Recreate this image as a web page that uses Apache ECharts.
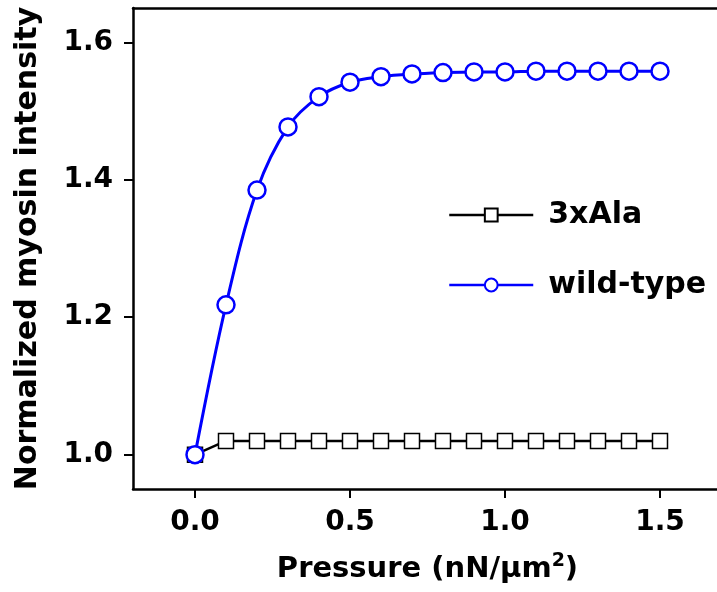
<!DOCTYPE html>
<html>
<head>
<meta charset="utf-8">
<script src="https://cdn.jsdelivr.net/npm/echarts@6/dist/echarts.min.js"></script>
<style>
  html, body { margin: 0; padding: 0; background: #fff; overflow: hidden; }
  #chart { width: 717px; height: 592px; }
</style>
</head>
<body>
<div id="chart"></div>
<script>
// pressure values (nN/um^2)
const pressure = [0, 0.1, 0.2, 0.3, 0.4, 0.5, 0.6, 0.7, 0.8, 0.9, 1.0, 1.1, 1.2, 1.3, 1.4, 1.5];
// normalized myosin intensity
const ala3 = [1.0, 1.02, 1.02, 1.02, 1.02, 1.02, 1.02, 1.02, 1.02, 1.02, 1.02, 1.02, 1.02, 1.02, 1.02, 1.02];
const wildType = [1.0, 1.218, 1.385, 1.477, 1.521, 1.542, 1.55, 1.554, 1.556, 1.557, 1.557, 1.558, 1.558, 1.558, 1.558, 1.558];
const xTicks = [0, 0.5, 1.0, 1.5];
const yTicks = [1.0, 1.2, 1.4, 1.6];

const chart = echarts.init(document.getElementById('chart'));
const font = '"DejaVu Sans", sans-serif';

chart.setOption({
    animation: false,
    // the frame runs past the right edge of the picture
    grid: { left: 133, top: 8, right: -5, bottom: 103, containLabel: false, outerBoundsMode: 'none' },
    legend: {
        orient: 'vertical',
        left: 443, top: 195,
        itemWidth: 84, itemHeight: 16,
        itemGap: 40,
        lineStyle: { width: 2.5 },
        textStyle: { fontFamily: font, fontWeight: 'bold', fontSize: 30, color: '#000', padding: [0, 0, 0, 10] },
        data: ['3xAla', 'wild-type']
    },
    xAxis: [{
        type: 'value', min: -0.2, max: 1.7,
        name: '{a|Pressure (nN/\u03bcm}{b|2}{a|)}',
        nameLocation: 'middle', nameGap: 63,
        nameTextStyle: {
            rich: {
                a: { fontFamily: font, fontWeight: 'bold', fontSize: 29, color: '#000' },
                b: { fontFamily: font, fontWeight: 'bold', fontSize: 19, color: '#000', padding: [0, 0, 16, 0] }
            }
        },
        splitLine: { show: false },
        axisLine: { onZero: false, lineStyle: { color: '#000', width: 2.5 } },
        axisTick: { customValues: xTicks, length: 9, lineStyle: { color: '#000', width: 2 } },
        axisLabel: {
            customValues: xTicks,
            formatter: v => v.toFixed(1),
            fontFamily: font, fontWeight: 'bold', fontSize: 28, color: '#000', margin: 20
        }
    }, {
        // top frame line
        type: 'value', position: 'top', min: -0.2, max: 1.7,
        splitLine: { show: false },
        axisLine: { onZero: false, lineStyle: { color: '#000', width: 2.5 } },
        axisTick: { show: false },
        axisLabel: { show: false }
    }],
    yAxis: {
        type: 'value', min: 0.95, max: 1.65,
        name: 'Normalized myosin intensity',
        nameLocation: 'middle', nameGap: 90,
        nameTextStyle: { fontFamily: font, fontWeight: 'bold', fontSize: 30, color: '#000' },
        splitLine: { show: false },
        axisLine: { onZero: false, lineStyle: { color: '#000', width: 2.5 } },
        axisTick: { customValues: yTicks, length: 9, lineStyle: { color: '#000', width: 2 } },
        axisLabel: {
            customValues: yTicks,
            formatter: v => v.toFixed(1),
            fontFamily: font, fontWeight: 'bold', fontSize: 28, color: '#000', margin: 20
        }
    },
    series: [
        {
            name: '3xAla', type: 'line',
            data: pressure.map((p, i) => [p, ala3[i]]),
            symbol: 'rect', symbolSize: 15,
            lineStyle: { color: '#000', width: 2.5 },
            itemStyle: { color: '#fff', borderColor: '#000', borderWidth: 1.5 },
            z: 2
        },
        {
            name: 'wild-type', type: 'line',
            data: pressure.map((p, i) => [p, wildType[i]]),
            smooth: 0.35,
            symbol: 'circle', symbolSize: 17,
            lineStyle: { color: '#0000ff', width: 3 },
            itemStyle: { color: '#fff', borderColor: '#0000ff', borderWidth: 2.5 },
            z: 3
        }
    ],
    // the picture has no right-hand frame edge; keep that strip white
    graphic: [
        { type: 'rect', z: 100, shape: { x: 712, y: 10.5, width: 6, height: 476 }, style: { fill: '#fff' } }
    ]
});
</script>
</body>
</html>
